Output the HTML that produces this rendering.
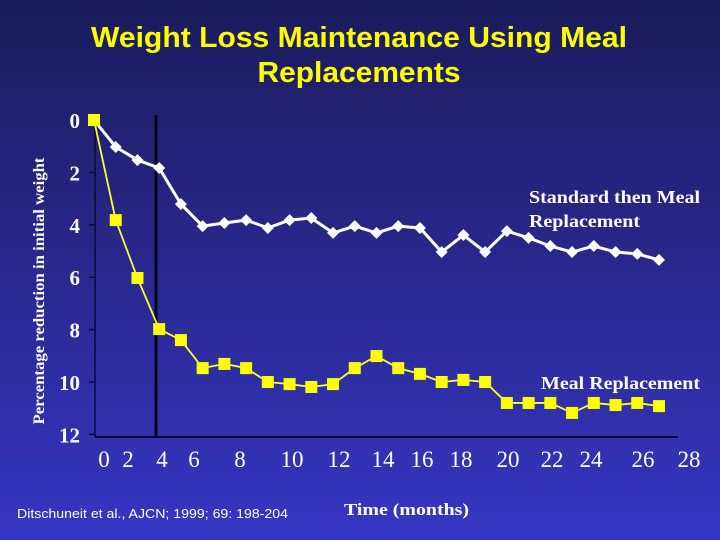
<!DOCTYPE html>
<html><head><meta charset="utf-8"><style>
html,body{margin:0;padding:0;width:720px;height:540px;overflow:hidden}
svg{display:block}
</style></head><body>
<svg id="chart" width="720" height="540" xmlns="http://www.w3.org/2000/svg">
<defs><linearGradient id="bg" x1="0" y1="0" x2="0" y2="1">
<stop offset="0" stop-color="#1b1b5a"/><stop offset="1" stop-color="#3636c4"/></linearGradient></defs>
<rect width="720" height="540" fill="url(#bg)"/>
<g font-family="Liberation Sans, sans-serif" font-weight="bold" font-size="29" fill="#ffff00" text-anchor="middle">
<text x="359" y="47" textLength="536" lengthAdjust="spacingAndGlyphs">Weight Loss Maintenance Using Meal</text>
<text x="359" y="82" textLength="203" lengthAdjust="spacingAndGlyphs">Replacements</text></g>
<text transform="translate(44,291) rotate(-90)" text-anchor="middle" textLength="267" lengthAdjust="spacingAndGlyphs" font-family="Liberation Serif, serif" font-weight="bold" font-size="16" fill="#fff">Percentage reduction in initial weight</text>
<g id="yticks"></g><g id="xticks"></g>
<line x1="95" y1="118" x2="95" y2="437" stroke="#0a0a30" stroke-width="1.5"/>
<line x1="95" y1="437" x2="678" y2="437" stroke="#0a0a30" stroke-width="2"/>
<line x1="156" y1="115" x2="156" y2="437" stroke="#05051a" stroke-width="3"/>
<g id="series"></g>
<g font-family="Liberation Serif, serif" font-weight="bold" font-size="18" fill="#fff">
<text x="529" y="203" textLength="171" lengthAdjust="spacingAndGlyphs">Standard then Meal</text>
<text x="529" y="227" textLength="111" lengthAdjust="spacingAndGlyphs">Replacement</text>
<text x="541" y="389" textLength="159" lengthAdjust="spacingAndGlyphs">Meal Replacement</text>
</g>
<text x="17" y="518" textLength="271" lengthAdjust="spacingAndGlyphs" font-family="Liberation Sans, sans-serif" font-size="13" fill="#fff">Ditschuneit et al., AJCN; 1999; 69: 198-204</text>
<text x="344" y="515" textLength="125" lengthAdjust="spacingAndGlyphs" font-family="Liberation Serif, serif" font-weight="bold" font-size="17" fill="#fff">Time (months)</text>
</svg>
<script>
const yTicks=[0,2,4,6,8,10,12];
const xTickLabels=["0","2","4","6","8","10","12","14","16","18","20","22","24","26","28"];
const xTickPos=[104,128,162,194,240,292,339,383,422,461,508,552,591,643,689];
const standardThenMeal=[0,1.03,1.53,1.83,3.21,4.05,3.93,3.82,4.12,3.82,3.74,4.31,4.05,4.31,4.05,4.12,5.04,4.39,5.04,4.24,4.5,4.81,5.04,4.81,5.04,5.11,5.34];
const mealReplacement=[0,3.82,6.03,7.98,8.4,9.47,9.31,9.47,10,10.08,10.19,10.08,9.47,9.01,9.47,9.69,10,9.92,10,10.8,10.8,10.8,11.18,10.8,10.88,10.8,10.92];
const NS="http://www.w3.org/2000/svg";
const ys=v=>120+v*26.2, xs=i=>94+i*21.73;
function mk(t,a,p){const e=document.createElementNS(NS,t);for(const k in a)e.setAttribute(k,a[k]);p.appendChild(e);return e;}
const yt=document.getElementById('yticks');
yTicks.forEach(v=>{
 const t=mk('text',{x:80,y:ys(v)+8,'text-anchor':'end','font-family':'Liberation Serif, serif','font-weight':'bold','font-size':21,fill:'#fff'},yt);
 t.textContent=v;
 
 
 if(v>0){const l=mk('line',{x1:89,x2:95,y1:ys(v),y2:ys(v),stroke:'#0a0a30','stroke-width':1.5},yt);
 
 }
});
const xt=document.getElementById('xticks');
xTickLabels.forEach((s,i)=>{
 const t=mk('text',{x:xTickPos[i],y:467,'text-anchor':'middle','font-family':'Liberation Serif, serif','font-size':23,fill:'#fff'},xt);
 t.textContent=s;
 
 
});
const sg=document.getElementById('series');
const pl1=mk('polyline',{points:mealReplacement.map((v,i)=>xs(i)+','+ys(v)).join(' '),fill:'none',stroke:'#ffff33','stroke-width':1.8},sg);


const pl2=mk('polyline',{points:standardThenMeal.map((v,i)=>xs(i)+','+ys(v)).join(' '),fill:'none',stroke:'#fff','stroke-width':3},sg);


standardThenMeal.forEach((v,i)=>{
 const x=xs(i),y=ys(v);
 const p=mk('polygon',{points:`${x},${y-6} ${x+6},${y} ${x},${y+6} ${x-6},${y}`,fill:'#fff'},sg);
 
 
});
mealReplacement.forEach((v,i)=>{
 const r=mk('rect',{x:xs(i)-6,y:ys(v)-6,width:12,height:12,fill:'#ffff00'},sg);
 
 
});
</script>
</body></html>
